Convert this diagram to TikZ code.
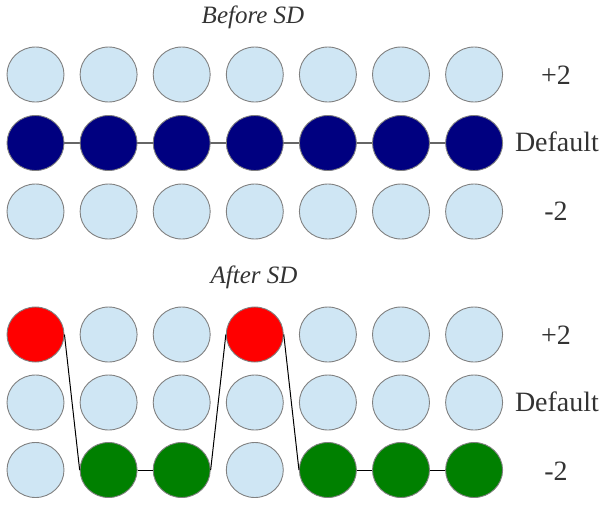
\documentclass[tikz,border=0pt]{standalone}
\usepackage{fontspec}
\setmainfont{Liberation Serif}
\usetikzlibrary{shapes.geometric}
\definecolor{lblue}{HTML}{CFE6F4}
\definecolor{navyc}{HTML}{000080}
\definecolor{redc}{HTML}{FF0000}
\definecolor{greenc}{HTML}{008000}
\definecolor{txt}{HTML}{333333}
\definecolor{rim}{HTML}{808080}
\tikzset{
  ball/.style={ellipse, draw=rim, line width=0.9pt, minimum width=57pt, minimum height=55pt, inner sep=0pt},
  plain/.style={ball, fill=lblue},
  dflt/.style={ball, fill=navyc},
  up/.style={ball, fill=redc},
  down/.style={ball, fill=greenc},
  lab/.style={text=txt, font=\fontsize{28}{30}\selectfont, inner sep=0pt},
  ttl/.style={text=txt, font=\itshape\fontsize{25}{27}\selectfont, inner sep=0pt, anchor=base},
  glink/.style={draw=rim!80!black, line width=1.4pt},
  blink/.style={draw=black, line width=1pt}
}
\begin{document}
\begin{tikzpicture}[x=1pt,y=-1pt]
\useasboundingbox (0,0) rectangle (600,504);
% Before SD
\node[ttl] (t1) at (253,23) {Before SD};
\foreach \i in {1,...,7} {
  \pgfmathsetmacro{\xx}{35.5+73.1*(\i-1)}
  \node[plain] (a\i) at (\xx,74.5) {};
  \node[plain] (c\i) at (\xx,211.5) {};
}
\foreach \i in {1,...,6} {
  \pgfmathtruncatemacro{\j}{\i+1}
  \pgfmathsetmacro{\xx}{35.5+73.1*(\i-1)}
  \pgfmathsetmacro{\xy}{35.5+73.1*(\j-1)}
  \path[glink] (\xx,143) -- (\xy,143);
}
\foreach \i in {1,...,7} {
  \pgfmathsetmacro{\xx}{35.5+73.1*(\i-1)}
  \node[dflt] (b\i) at (\xx,143) {};
}
\node[lab] (la) at (556,75) {+2};
\node[lab] (lb) at (557,142) {Default};
\node[lab] (lc) at (556,211) {-2};
% After SD
\node[ttl] (t2) at (254,283) {After SD};
\foreach \i/\s in {1/up,2/plain,3/plain,4/up,5/plain,6/plain,7/plain} {
  \pgfmathsetmacro{\xx}{35.5+73.1*(\i-1)}
  \node[\s] (d\i) at (\xx,334.5) {};
}
\foreach \i in {1,...,7} {
  \pgfmathsetmacro{\xx}{35.5+73.1*(\i-1)}
  \node[plain] (e\i) at (\xx,402.5) {};
}
\foreach \i/\s in {1/plain,2/down,3/down,4/plain,5/down,6/down,7/down} {
  \pgfmathsetmacro{\xx}{35.5+73.1*(\i-1)}
  \node[\s] (f\i) at (\xx,470) {};
}
\path[blink] (d1.east) -- (f2.west);
\path[blink] (f2.east) -- (f3.west);
\path[blink] (f3.east) -- (d4.west);
\path[blink] (d4.east) -- (f5.west);
\path[blink] (f5.east) -- (f6.west);
\path[blink] (f6.east) -- (f7.west);
\node[lab] (ld) at (556,335) {+2};
\node[lab] (le) at (557,402) {Default};
\node[lab] (lf) at (556,471) {-2};
\end{tikzpicture}
\end{document}
